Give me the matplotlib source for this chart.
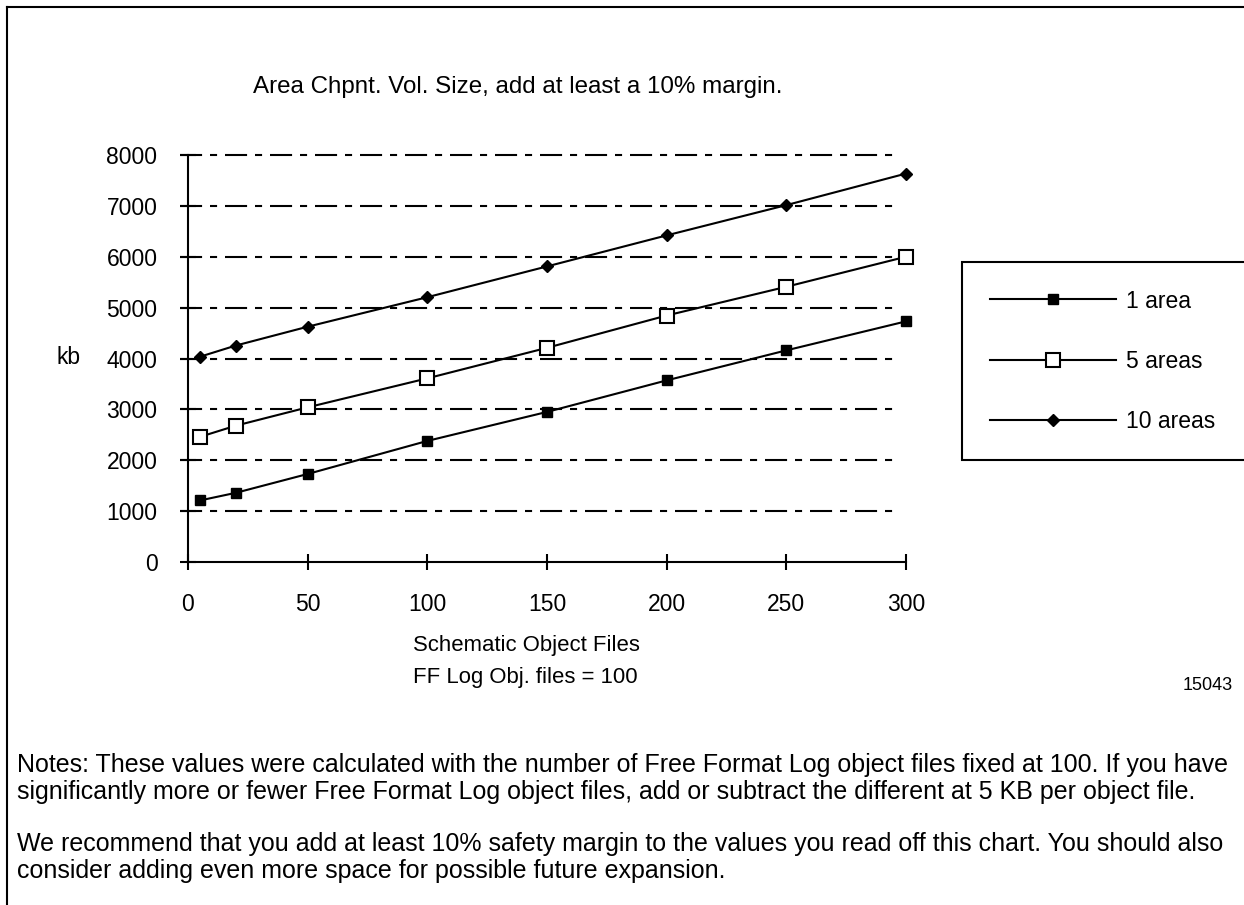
import numpy as np
import matplotlib
matplotlib.use('Agg')
import matplotlib.pyplot as plt
from matplotlib.lines import Line2D

plt.rcParams['font.family'] = ['Liberation Sans', 'DejaVu Sans']

# data
files = [5, 20, 50, 100, 150, 200, 250, 300]
one_area = [1210, 1360, 1730, 2380, 2950, 3570, 4160, 4730]
five_areas = [2460, 2680, 3040, 3610, 4210, 4845, 5410, 6000]
ten_areas = [4035, 4255, 4625, 5205, 5810, 6420, 7015, 7635]
x_ticks = [0, 50, 100, 150, 200, 250, 300]
y_ticks = [0, 1000, 2000, 3000, 4000, 5000, 6000, 7000, 8000]

W, H = 1244, 905
fs = 16.5
lw = 1.5

fig = plt.figure(figsize=(W / 100, H / 100), dpi=100)
ax = fig.add_axes([188 / W, 1 - 562 / H, 718 / W, 407 / H])

# dash-dot grid lines, drawn a bit past the y axis like the original
ax.hlines(y_ticks[1:], -8 / 718, 710 / 718, transform=ax.get_yaxis_transform(),
          colors='black', linewidth=lw, linestyles=[(0, (10.6, 3.8, 3.4, 3.8))],
          clip_on=False, zorder=1)

ax.plot(files, one_area, '-', color='black', lw=lw, marker='s', ms=6.5,
        mfc='black', mec='black', label='1 area', zorder=3, clip_on=False)
ax.plot(files, five_areas, '-', color='black', lw=lw, marker='s', ms=10,
        mfc='white', mec='black', mew=1.5, label='5 areas', zorder=3, clip_on=False)
ax.plot(files, ten_areas, '-', color='black', lw=lw, marker='D', ms=5.8,
        mfc='black', mec='black', label='10 areas', zorder=3, clip_on=False)

ax.set_xlim(0, 300)
ax.set_ylim(0, 8000)
ax.set_xticks(x_ticks)
ax.set_yticks(y_ticks)
ax.tick_params(direction='inout', length=12, width=lw, labelsize=fs, pad=16,
               colors='black')
for s in ['top', 'right']:
    ax.spines[s].set_visible(False)
for s in ['left', 'bottom']:
    ax.spines[s].set_linewidth(lw)
    ax.spines[s].set_color('black')
ax.patch.set_alpha(0)

leg = fig.legend(loc='upper left', mode='expand', numpoints=1,
                 bbox_to_anchor=(962 / W, 1 - 262 / H, 300 / W, 0),
                 fontsize=fs, handlelength=5.5, handletextpad=0.45,
                 labelspacing=1.62, borderpad=1.2, borderaxespad=0,
                 fancybox=False, framealpha=1, edgecolor='black')
leg.get_frame().set_linewidth(lw)

fig.text(253 / W, 1 - 87 / H, 'Area Chpnt. Vol. Size, add at least a 10% margin.',
         fontsize=17.4, va='center', ha='left')
fig.text(57 / W, 1 - 357 / H, 'kb', fontsize=fs, va='center', ha='left')
fig.text(413 / W, 1 - 645 / H, 'Schematic Object Files', fontsize=15.9, va='center')
fig.text(413 / W, 1 - 677 / H, 'FF Log Obj. files = 100', fontsize=15.9, va='center')
fig.text(1233 / W, 1 - 685 / H, '15043', fontsize=13, va='center', ha='right')

notes = ['Notes: These values were calculated with the number of Free Format Log object files fixed at 100. If you have',
         'significantly more or fewer Free Format Log object files, add or subtract the different at 5 KB per object file.',
         'We recommend that you add at least 10% safety margin to the values you read off this chart. You should also',
         'consider adding even more space for possible future expansion.']
for txt, yp in zip(notes, [765, 792, 844, 871]):
    fig.text(17 / W, 1 - yp / H, txt, fontsize=18.0, va='center', ha='left')

# page frame (top and left edges only)
fig.add_artist(Line2D([7 / W, 1], [1 - 7 / H, 1 - 7 / H], color='black', lw=lw,
                      transform=fig.transFigure))
fig.add_artist(Line2D([7 / W, 7 / W], [1 - 7 / H, 0], color='black', lw=lw,
                      transform=fig.transFigure))

fig.savefig('out.png', dpi=100)
